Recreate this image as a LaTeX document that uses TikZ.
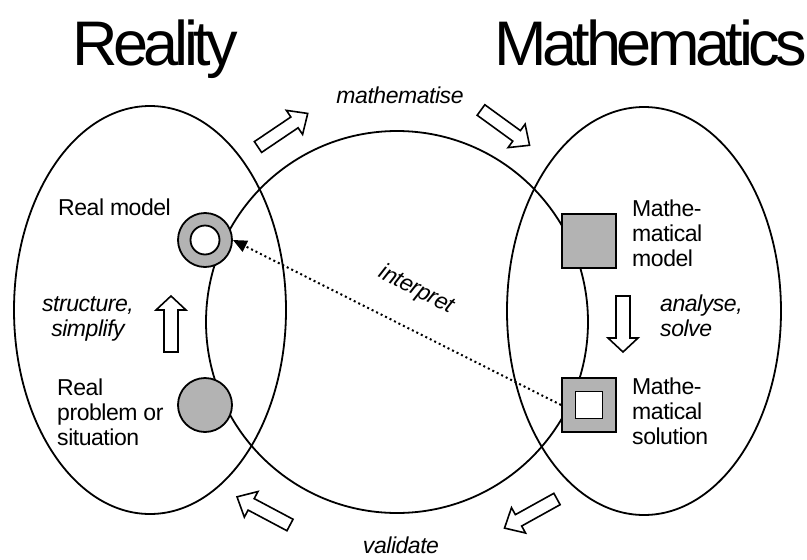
\documentclass[tikz,border=0pt]{standalone}
\usepackage{fontspec}
\setmainfont{Liberation Sans}
\newfontfamily\titlefont[LetterSpace=-7]{Liberation Sans}
\newfontfamily\labelfont[LetterSpace=-2]{Liberation Sans}
\usetikzlibrary{arrows.meta}
\definecolor{shapegray}{RGB}{179,179,179}
\tikzset{
  outline/.style={line width=1.8pt},
  lbl/.style={font=\labelfont\fontsize{23}{25}\selectfont, inner sep=0pt, align=left},
  ital/.style={font=\labelfont\itshape\fontsize{23}{25}\selectfont, inner sep=0pt},
  titletext/.style={font=\titlefont\fontsize{63}{63}\selectfont, inner sep=0pt, anchor=base west},
  realshape/.style={draw, outline, circle, fill=shapegray, minimum size=54pt, inner sep=0pt},
  mathshape/.style={draw, outline, rectangle, fill=shapegray, minimum size=54pt, inner sep=0pt},
  hollow/.pic={\draw[line width=1.6pt, fill=white] (0,-6.5) -- (44,-6.5) -- (44,-14.5) -- (60,0) -- (44,14.5) -- (44,6.5) -- (0,6.5) -- cycle;},
  vhollow/.pic={\draw[line width=1.6pt, fill=white] (0,-7) -- (42,-7) -- (42,-15) -- (56,0) -- (42,15) -- (42,7) -- (0,7) -- cycle;}
}
\begin{document}
\begin{tikzpicture}[x=1pt,y=-1pt]
\useasboundingbox (0,0) rectangle (807,560);
% titles
\node[titletext] (reality) at (72,65) {Reality};
\node[titletext] (mathematics) at (494,65) {Mathematics};
% ellipses and cycle circle
\draw[outline] (150,310) ellipse [x radius=136pt, y radius=204pt];
\draw[outline] (644,311) ellipse [x radius=137pt, y radius=204pt];
\draw[outline] (397,322) circle [radius=191pt];
% stations
\node[realshape] (rm) at (205,240) {};
\node[draw, outline, circle, fill=white, minimum size=29pt, inner sep=0pt] (rmin) at (rm) {};
\node[realshape] (rp) at (205,405) {};
\node[mathshape] (mm) at (589,241) {};
\node[mathshape] (ms) at (589,405) {};
\node[draw, outline, rectangle, fill=white, minimum size=27pt, inner sep=0pt] (msin) at (ms) {};
% interpret arrow
\draw[line width=2pt, dash pattern=on 2pt off 3pt, -{Triangle[length=14pt,width=12pt]}] (ms.west) -- (rm.east);
% hollow arrows
\pic[rotate=34] at (258,147) {hollow};
\pic[rotate=-36] at (481,110) {hollow};
\pic[rotate=152] at (290,525) {hollow};
\pic[rotate=-151] at (557,499) {hollow};
\pic[rotate=90] at (171,352) {vhollow};
\pic[rotate=-90] at (623,296) {vhollow};
% labels
\node[lbl, anchor=base west] (lrm) at (58,215) {Real model};
\node[lbl, anchor=base west] (lrp) at (57,445) {Real\\problem or\\situation};
\node[lbl, anchor=base west] (lmm) at (632,266) {Mathe-\\matical\\model};
\node[lbl, anchor=base west] (lms) at (632,444) {Mathe-\\matical\\solution};
\node[ital, align=center, anchor=base] (lss) at (88,336) {structure,\\simplify};
\node[ital, align=left, anchor=base west] (las) at (660,336) {analyse,\\solve};
\node[ital, anchor=base] (lmath) at (400,103) {mathematise};
\node[ital, anchor=base] (lval) at (401,553) {validate};
\node[ital, rotate=-27] (lint) at (416,290) {interpret};
\end{tikzpicture}
\end{document}
